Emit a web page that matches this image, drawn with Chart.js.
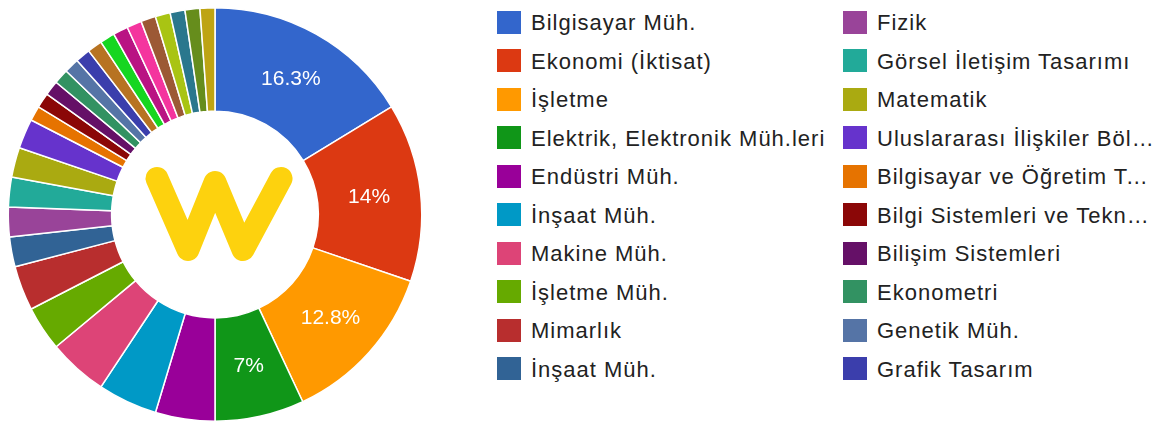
<!DOCTYPE html>
<html>
<head>
<meta charset="utf-8">
<script src="https://cdn.jsdelivr.net/npm/chart.js@4"></script>
<style>
  html, body { margin: 0; padding: 0; background: #fff; }
  body { width: 1154px; height: 427px; position: relative; overflow: hidden; font-family: "Liberation Sans", Arial, sans-serif; }
  #pieBox { position: absolute; left: 0; top: 0; width: 430px; height: 427px; }
  #legend { position: absolute; left: 0; top: 0; }
  .item { position: absolute; height: 24px; display: flex; align-items: center; }
  .swatch { width: 24px; height: 23px; flex: none; }
  .label { margin-left: 10px; padding-top: 2px; font-size: 22px; letter-spacing: 1px; color: #222; white-space: nowrap; overflow: hidden; text-overflow: ellipsis; }
</style>
</head>
<body>
<div id="pieBox"><canvas id="pie"></canvas></div>
<div id="legend"></div>
<script>
// departments (first 20 are shown in the legend)
const categories = [
  "Bilgisayar Müh.", "Ekonomi (İktisat)", "İşletme", "Elektrik, Elektronik Müh.leri",
  "Endüstri Müh.", "İnşaat Müh.", "Makine Müh.", "İşletme Müh.", "Mimarlık", "İnşaat Müh.",
  "Fizik", "Görsel İletişim Tasarımı", "Matematik", "Uluslararası İlişkiler Bölümü",
  "Bilgisayar ve Öğretim Teknolojileri Eğitimi", "Bilgi Sistemleri ve Teknolojileri",
  "Bilişim Sistemleri", "Ekonometri", "Genetik Müh.", "Grafik Tasarım",
  "Hukuk", "Kimya", "Moleküler Biyoloji ve Genetik", "Psikoloji", "Sosyoloji",
  "Tarih", "Endüstriyel Tasarım", "Mekatronik Müh.", "Yazılım Müh."
];
const counts = [14, 12, 11, 6, 4, 4, 4, 3, 3, 2, 2, 2, 2, 2, 1, 1, 1, 1, 1, 1, 1, 1, 1, 1, 1, 1, 1, 1, 1];
const colors = [
  "#3366cc", "#dc3912", "#ff9900", "#109618", "#990099", "#0099c6", "#dd4477", "#66aa00",
  "#b82e2e", "#316395", "#994499", "#22aa99", "#aaaa11", "#6633cc", "#e67300", "#8b0707",
  "#651067", "#329262", "#5574a6", "#3b3eac", "#b77322", "#16d620", "#b91383", "#f4359e",
  "#9c5935", "#a9c413", "#2a778d", "#668d1c", "#bea413"
];
const legendCount = 20;
const labelMin = 0.05; // slices smaller than this get no % text

const total = counts.reduce((a, b) => a + b, 0);

// percent text on the big slices
const sliceText = {
  id: "sliceText",
  afterDatasetsDraw(chart) {
    const ctx = chart.ctx;
    const arcs = chart.getDatasetMeta(0).data;
    ctx.save();
    ctx.fillStyle = "#fff";
    ctx.font = "21px 'Liberation Sans', Arial, sans-serif";
    ctx.textAlign = "center";
    ctx.textBaseline = "middle";
    arcs.forEach((arc, i) => {
      const share = counts[i] / total;
      if (share < labelMin) return;
      const p = arc.tooltipPosition();
      const txt = Math.round(share * 1000) / 10 + "%";
      ctx.fillText(txt, p.x, p.y);
    });
    ctx.restore();
  }
};

// the yellow W in the hole
const logo = {
  id: "logo",
  afterDraw(chart) {
    const arc = chart.getDatasetMeta(0).data[0];
    const cx = arc.x, cy = arc.y;
    const ctx = chart.ctx;
    ctx.save();
    ctx.strokeStyle = "#fdd20e";
    ctx.lineWidth = 23;
    ctx.lineCap = "round";
    ctx.lineJoin = "round";
    ctx.beginPath();
    ctx.moveTo(cx - 58, cy - 36);
    ctx.lineTo(cx - 27, cy + 35);
    ctx.lineTo(cx, cy - 32);
    ctx.lineTo(cx + 28, cy + 35);
    ctx.lineTo(cx + 66, cy - 36);
    ctx.stroke();
    ctx.restore();
  }
};

new Chart(document.getElementById("pie"), {
  type: "doughnut",
  data: {
    labels: categories,
    datasets: [{
      data: counts,
      backgroundColor: colors,
      borderColor: "#fff",
      borderWidth: 1.5
    }]
  },
  options: {
    responsive: true,
    maintainAspectRatio: false,
    animation: false,
    cutout: "50%",
    layout: { padding: { top: 7, bottom: 5, left: 0, right: 0 } },
    plugins: {
      legend: { display: false },
      tooltip: { enabled: true }
    }
  },
  plugins: [sliceText, logo]
});

// legend, two columns of ten
const legendDiv = document.getElementById("legend");
const colX = [497, 843];
const labelW = [300, 277];
for (let i = 0; i < legendCount; i++) {
  const col = Math.floor(i / 10), row = i % 10;
  const item = document.createElement("div");
  item.className = "item";
  item.style.left = colX[col] + "px";
  item.style.top = (10 + row * 38.5) + "px";
  item.innerHTML = `<div class="swatch" style="background:${colors[i]}"></div>` +
    `<div class="label" style="max-width:${labelW[col]}px">${categories[i]}</div>`;
  legendDiv.appendChild(item);
}
</script>
</body>
</html>
